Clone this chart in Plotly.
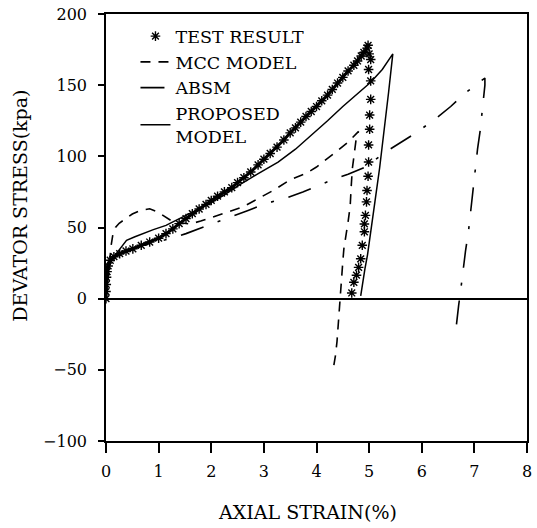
import plotly.graph_objects as go

# ---------------- data ----------------
test_load_strain = [0, 0.0, 0.005, 0.01, 0.02, 0.04, 0.08, 0.15, 0.26, 0.38, 0.51, 0.67, 0.83,
                    1.0, 1.14, 1.27, 1.39, 1.52, 1.64, 1.77, 1.9, 2.0, 2.12, 2.25, 2.39, 2.5,
                    2.62, 2.75, 2.89, 3.0, 3.12, 3.25, 3.38, 3.5, 3.6, 3.7, 3.8, 3.9, 4.0, 4.1,
                    4.21, 4.3, 4.4, 4.5, 4.6, 4.71, 4.78, 4.85, 4.9, 4.96, 4.98]
test_load_stress = [0, 5, 10, 15, 19, 23, 27, 29.5, 31.6, 33.5, 35, 37.5, 39.8,
                    42.5, 45.7, 49, 52.7, 56.3, 59.7, 63, 66.2, 69, 72, 75, 78, 81.5,
                    85, 89, 94, 98, 102, 106.5, 111.5, 116.5, 120, 124, 128, 131.5, 135, 139,
                    143, 147, 151.5, 155.5, 160, 164, 167, 170.5, 173, 176, 178]

test_unload_strain = [5.0, 5.03, 4.99, 5.03, 5.03, 5.01, 5.01, 4.99, 4.99, 4.98, 4.96, 4.95,
                      4.93, 4.91, 4.91, 4.87, 4.84, 4.8, 4.76, 4.71, 4.67]
test_unload_stress = [172, 168, 161, 153, 140, 129, 119, 108, 96, 86, 76, 68,
                      58.5, 52.5, 47, 37.5, 28, 22, 16.5, 11.5, 4]

mcc_strain = [0, 0.03, 0.06, 0.08, 0.1, 0.13, 0.18, 0.25, 0.36, 0.5, 0.65, 0.83, 0.98, 1.1,
              1.23, 1.4, 1.6, 1.8, 2.0, 2.3, 2.6, 2.9, 3.2, 3.5, 3.8, 4.0, 4.2, 4.4, 4.6,
              4.77, 4.8, 4.76, 4.71, 4.68, 4.66, 4.64, 4.6, 4.56, 4.52, 4.5, 4.48, 4.47,
              4.45, 4.43, 4.4, 4.39, 4.36, 4.34, 4.32]
mcc_stress = [0, 12, 24, 32, 38, 45, 50, 53, 56, 59.5, 62, 63.2, 61, 58,
              55, 53.3, 52.5, 54.5, 57, 60.5, 64.5, 70.5, 76.5, 83.5, 88, 92.5, 98, 104, 110,
              116, 117.5, 114, 101, 91, 79, 65, 54, 44, 35, 26, 16, 7,
              -3, -12, -21, -30, -40, -44.5, -49]

absm_strain = [0, 0.02, 0.05, 0.1, 0.2, 0.36, 0.8, 1.17, 1.52, 1.9, 2.33, 2.7, 3.02, 3.43,
               3.74, 4.0, 4.27, 4.6, 4.93, 5.31, 5.6, 5.87, 6.25, 6.55, 6.81, 7.0, 7.2,
               7.2, 7.18, 7.16, 7.11, 7.06, 7.02, 6.97, 6.94, 6.89, 6.83, 6.78, 6.74, 6.7,
               6.67, 6.66]
absm_stress = [0, 12, 22, 27, 30, 34, 38.5, 41.7, 45.7, 51, 56.7, 62, 66.7, 70.7,
               75, 79, 83, 87.5, 92.5, 103, 110, 116, 126, 135, 144, 149.5, 155,
               150, 142, 133.5, 118, 105, 91, 76, 62, 48, 33, 20, 6, -5,
               -15, -18]

prop_strain = [0, 0.02, 0.06, 0.12, 0.17, 0.28, 0.39, 0.55, 0.7, 0.9, 1.14, 1.39, 1.77, 2.0,
               2.25, 2.52, 2.9, 3.27, 3.6, 3.9, 4.21, 4.5, 4.8, 5.03, 5.25, 5.45,
               5.37, 5.29, 5.2, 5.11, 5.03, 4.97, 4.92, 4.88, 4.84]
prop_stress = [0, 12, 22, 28, 30.4, 36, 41, 43.5, 45.7, 48.5, 51.5, 56.2, 63, 67.5,
               73, 79.6, 88, 96, 105, 114.7, 125, 135, 145, 152, 161, 172,
               145, 118, 92, 68, 44.5, 31, 21, 11, 2]

x_ticks = [0, 1, 2, 3, 4, 5, 6, 7, 8]
y_ticks = [-100, -50, 0, 50, 100, 150, 200]

names = ["TEST RESULT", "MCC MODEL", "ABSM", "PROPOSED<br>MODEL"]
x_title = "AXIAL STRAIN(%)"
y_title = "DEVATOR STRESS(kpa)"

FONT = "DejaVu Serif"

# ---------------- figure ----------------
fig = go.Figure()

star = dict(symbol="asterisk-open", size=8, color="black", line=dict(color="black", width=1.4))

fig.add_trace(go.Scatter(x=test_load_strain, y=test_load_stress, mode="lines+markers",
                         line=dict(color="black", width=3), marker=star,
                         name=names[0], showlegend=False))
fig.add_trace(go.Scatter(x=test_unload_strain, y=test_unload_stress, mode="markers",
                         marker=dict(symbol="asterisk-open", size=8, color="black",
                                     line=dict(color="black", width=1.4)),
                         name=names[0]))
fig.add_trace(go.Scatter(x=mcc_strain, y=mcc_stress, mode="lines",
                         line=dict(color="black", width=1.6, dash="10px,8px"),
                         name=names[1]))
fig.add_trace(go.Scatter(x=absm_strain, y=absm_stress, mode="lines",
                         line=dict(color="black", width=1.6, dash="24px,15px,3px,15px"),
                         name=names[2]))
fig.add_trace(go.Scatter(x=prop_strain, y=prop_stress, mode="lines",
                         line=dict(color="black", width=1.5),
                         name=names[3]))

fig.update_layout(
    width=537, height=528,
    margin=dict(l=106, r=5, t=14, b=87),
    plot_bgcolor="white", paper_bgcolor="white",
    font=dict(family=FONT, color="black", size=15),
    showlegend=True,
    legend=dict(x=0.07, y=0.99, xanchor="left", yanchor="top",
                bgcolor="rgba(0,0,0,0)", font=dict(family=FONT, size=17.5, color="black"),
                itemwidth=30, tracegroupgap=0),
    xaxis=dict(range=[0, 8], tickvals=x_ticks, ticktext=[str(v) for v in x_ticks],
               showline=True, mirror=True, linecolor="black", linewidth=1.5,
               ticks="outside", ticklen=10, tickwidth=1.5, tickcolor="black",
               showgrid=False, zeroline=False, ticklabelstandoff=5,
               tickfont=dict(family=FONT, size=16, color="black")),
    yaxis=dict(range=[-100, 200], tickvals=y_ticks,
               showline=True, mirror=True, linecolor="black", linewidth=1.5,
               ticks="outside", ticklen=6, tickwidth=1.5, tickcolor="black",
               showgrid=False, zeroline=True, zerolinecolor="black", zerolinewidth=1.5,
               ticklabelstandoff=8,
               tickfont=dict(family=FONT, size=16, color="black")),
    annotations=[
        dict(text=x_title, xref="paper", yref="paper", x=0.479, y=-0.166,
             xanchor="center", yanchor="middle", showarrow=False,
             font=dict(family=FONT, size=19, color="black")),
        dict(text=y_title, xref="paper", yref="paper", x=-0.203, y=0.55,
             xanchor="center", yanchor="middle", showarrow=False, textangle=-90,
             font=dict(family=FONT, size=19, color="black")),
    ],
)

fig.write_html("out.html")
